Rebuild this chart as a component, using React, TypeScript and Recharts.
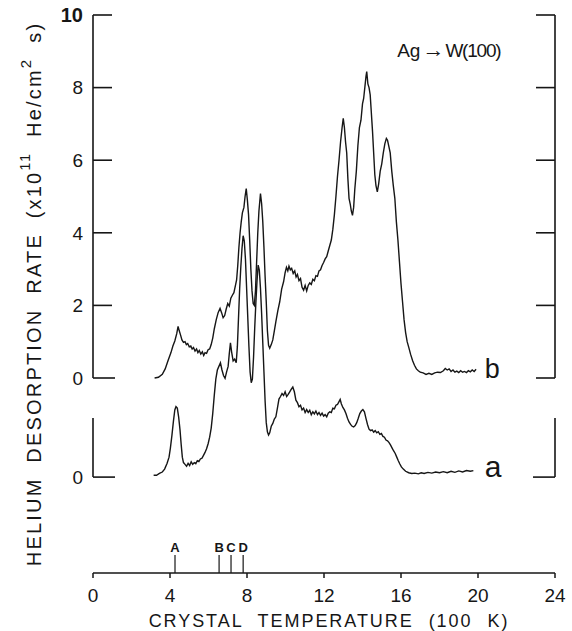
import React from 'react';
import { LineChart, Line, XAxis, YAxis, ReferenceLine, ReferenceDot } from 'recharts';

// Trace b (upper): crystal temperature (100 K) and helium desorption rate (1e11 He/cm^2 s)
const TEMP_B = [
  3.2, 3.4, 3.6, 3.75, 3.9, 4.05, 4.15, 4.25, 4.35, 4.42, 4.48, 4.55, 4.62, 4.7, 4.78, 4.85, 4.92, 5.0,
  5.08, 5.15, 5.22, 5.3, 5.38, 5.45, 5.52, 5.6, 5.68, 5.75, 5.82, 5.9, 5.98, 6.06, 6.14, 6.22, 6.3, 6.4,
  6.5, 6.6, 6.68, 6.76, 6.84, 6.92, 7.0, 7.08, 7.16, 7.24, 7.32, 7.4, 7.46, 7.52, 7.58, 7.64, 7.7, 7.76,
  7.84, 7.9, 7.96, 8.02, 8.08, 8.14, 8.2, 8.26, 8.32, 8.38, 8.44, 8.5, 8.56, 8.62, 8.7, 8.76, 8.82, 8.88,
  8.94, 9.0, 9.06, 9.12, 9.18, 9.26, 9.34, 9.42, 9.5, 9.6, 9.7, 9.8, 9.9, 9.98, 10.05, 10.12, 10.18,
  10.25, 10.32, 10.4, 10.48, 10.55, 10.62, 10.7, 10.78, 10.86, 10.94, 11.02, 11.1, 11.18, 11.26, 11.34,
  11.42, 11.5, 11.58, 11.66, 11.74, 11.82, 11.9, 11.98, 12.06, 12.14, 12.22, 12.3, 12.38, 12.46, 12.54,
  12.62, 12.7, 12.78, 12.86, 12.94, 13.0, 13.06, 13.12, 13.18, 13.24, 13.3, 13.36, 13.42, 13.48, 13.54,
  13.6, 13.68, 13.76, 13.84, 13.92, 14.0, 14.06, 14.12, 14.18, 14.22, 14.28, 14.34, 14.4, 14.46, 14.52,
  14.58, 14.64, 14.7, 14.77, 14.84, 14.92, 15.0, 15.08, 15.16, 15.24, 15.3, 15.36, 15.44, 15.52, 15.6,
  15.68, 15.76, 15.84, 15.92, 16.0, 16.08, 16.16, 16.24, 16.32, 16.4, 16.5, 16.6, 16.7, 16.8, 16.9, 17.0,
  17.15, 17.3, 17.45, 17.6, 17.75, 17.9, 18.05, 18.2, 18.3, 18.4, 18.5, 18.6, 18.7, 18.8, 18.9, 19.0,
  19.1, 19.2, 19.3, 19.4, 19.5, 19.6, 19.7, 19.8, 19.9,
];
const RATE_B = [
  0.0, 0.02, 0.1, 0.25, 0.48, 0.7, 0.88, 1.02, 1.22, 1.42, 1.3, 1.18, 1.05, 0.98, 1.0, 0.92, 0.95, 0.86,
  0.88, 0.8, 0.84, 0.74, 0.8, 0.7, 0.76, 0.66, 0.72, 0.62, 0.7, 0.68, 0.78, 0.8, 0.92, 1.1, 1.35, 1.6,
  1.8, 1.92, 1.8, 1.66, 1.72, 1.9, 2.05, 1.98, 2.2, 2.28, 2.35, 2.55, 2.7, 3.1, 3.6, 4.0, 4.3, 4.55,
  4.7, 5.0, 5.22, 4.9, 4.5, 3.8, 3.0, 2.4, 2.05, 2.0, 2.4, 3.2, 4.0, 4.6, 5.08, 4.8, 4.3, 3.6,
  2.8, 2.1, 1.3, 0.9, 0.82, 0.92, 1.05, 1.3, 1.55, 1.85, 2.1, 2.45, 2.65, 2.9, 3.05, 2.95, 3.08,
  2.98, 3.02, 2.88, 2.95, 2.78, 2.85, 2.68, 2.74, 2.5, 2.42, 2.55, 2.4, 2.55, 2.62, 2.58,
  2.72, 2.68, 2.82, 2.8, 2.95, 2.98, 3.1, 3.18, 3.28, 3.34, 3.5, 3.65, 3.8, 4.1, 4.5,
  5.0, 5.55, 6.0, 6.5, 6.9, 7.15, 6.9, 6.5, 6.2, 5.5, 4.95, 4.8, 4.6, 4.48, 4.7,
  5.2, 5.7, 6.4, 6.9, 7.1, 7.55, 7.7, 8.0, 8.3, 8.44, 8.1, 8.0, 7.8, 7.3, 6.8,
  6.2, 5.6, 5.3, 5.13, 5.35, 5.7, 5.9, 6.2, 6.45, 6.6, 6.55, 6.4, 6.2, 5.7, 5.3,
  4.95, 4.3, 3.8, 3.2, 2.6, 2.1, 1.6, 1.25, 1.0, 0.85, 0.65, 0.48, 0.35, 0.25, 0.2, 0.16,
  0.14, 0.1, 0.13, 0.1, 0.14, 0.16, 0.15, 0.2, 0.26, 0.22, 0.25, 0.18, 0.22, 0.16, 0.19, 0.15,
  0.2, 0.16, 0.18, 0.15, 0.2, 0.17, 0.22, 0.18, 0.24,
];

// Trace a (lower): same quantities, drawn about its own zero line
const TEMP_A = [
  3.15, 3.3, 3.45, 3.6, 3.72, 3.85, 3.95, 4.02, 4.1, 4.18, 4.25, 4.31, 4.38, 4.45, 4.52, 4.58, 4.64, 4.7,
  4.78, 4.86, 4.94, 5.02, 5.1, 5.18, 5.26, 5.34, 5.42, 5.5, 5.58, 5.66, 5.74, 5.82, 5.9, 5.98, 6.06, 6.14,
  6.22, 6.3, 6.38, 6.46, 6.54, 6.62, 6.7, 6.78, 6.86, 6.94, 7.02, 7.08, 7.14, 7.2, 7.28, 7.36, 7.44, 7.5,
  7.56, 7.62, 7.68, 7.74, 7.8, 7.86, 7.92, 7.98, 8.04, 8.1, 8.16, 8.22, 8.28, 8.34, 8.4, 8.46, 8.52, 8.58,
  8.64, 8.7, 8.76, 8.82, 8.88, 8.94, 9.0, 9.06, 9.12, 9.18, 9.26, 9.34, 9.42, 9.5, 9.58, 9.66, 9.74, 9.82,
  9.9, 9.98, 10.06, 10.14, 10.22, 10.3, 10.38, 10.46, 10.54, 10.62, 10.7, 10.78, 10.86, 10.94, 11.02,
  11.1, 11.18, 11.26, 11.34, 11.42, 11.5, 11.58, 11.66, 11.74, 11.82, 11.9, 11.98, 12.06, 12.14, 12.22,
  12.3, 12.38, 12.46, 12.54, 12.62, 12.7, 12.78, 12.84, 12.9, 12.98, 13.06, 13.14, 13.22, 13.3, 13.38,
  13.46, 13.54, 13.62, 13.7, 13.78, 13.86, 13.94, 14.02, 14.1, 14.18, 14.26, 14.34, 14.42, 14.5, 14.58,
  14.66, 14.74, 14.82, 14.9, 14.98, 15.06, 15.14, 15.22, 15.3, 15.38, 15.46, 15.54, 15.62, 15.7, 15.78,
  15.86, 15.94, 16.02, 16.12, 16.24, 16.4, 16.56, 16.72, 16.9, 17.05, 17.2, 17.4, 17.6, 17.8, 18.0, 18.2,
  18.4, 18.6, 18.8, 19.0, 19.2, 19.4, 19.6, 19.76,
];
const RATE_A = [
  0.05, 0.05, 0.1, 0.14, 0.22, 0.38, 0.55, 0.8, 1.15, 1.55, 1.85, 1.94, 1.9, 1.65, 1.3, 0.9, 0.55, 0.4,
  0.35, 0.3, 0.38, 0.32, 0.42, 0.35, 0.4, 0.37, 0.45, 0.43, 0.5, 0.52, 0.6, 0.68, 0.78, 0.92, 1.1, 1.35,
  1.75, 2.25, 2.7, 2.95, 3.05, 3.15, 2.95, 2.8, 2.72, 2.9, 3.05, 3.4, 3.7, 3.45, 3.2, 3.25, 3.15, 3.6,
  4.4, 5.2, 5.8, 6.3, 6.65, 6.5, 6.0, 5.2, 4.4, 3.6, 2.9, 2.6, 2.7, 3.3, 4.1, 4.8, 5.4, 5.84,
  5.7, 5.2, 4.5, 3.7, 2.9, 2.1, 1.5, 1.25, 1.16, 1.22, 1.4, 1.48, 1.6, 1.66, 1.9, 2.15, 2.22, 2.3,
  2.25, 2.35, 2.22, 2.28, 2.35, 2.42, 2.48, 2.35, 2.12, 2.05, 1.94, 1.98, 1.85, 1.9, 1.78,
  1.86, 1.78, 1.84, 1.72, 1.8, 1.74, 1.82, 1.72, 1.78, 1.7, 1.76, 1.68, 1.72, 1.66, 1.76,
  1.8, 1.78, 1.9, 1.88, 1.98, 2.0, 2.08, 2.14, 2.02, 1.92, 1.85, 1.75, 1.62, 1.52, 1.45,
  1.4, 1.38, 1.42, 1.5, 1.62, 1.75, 1.82, 1.86, 1.8, 1.62, 1.45, 1.32, 1.28, 1.3, 1.24,
  1.28, 1.22, 1.25, 1.18, 1.2, 1.12, 1.1, 1.02, 1.0, 0.95, 0.88, 0.8, 0.72, 0.65, 0.55,
  0.45, 0.36, 0.28, 0.22, 0.16, 0.12, 0.1, 0.11, 0.09, 0.12, 0.1, 0.13, 0.11, 0.14, 0.12, 0.15,
  0.12, 0.16, 0.13, 0.17, 0.14, 0.18, 0.16, 0.18,
];

const X_TICKS = [0, 4, 8, 12, 16, 20, 24];
const Y_TICKS = [0, 2, 4, 6, 8, 10];
// zero line of trace a on the shared rate scale, and the height of its bracket
const TRACE_A_ZERO = -2.73;
const TRACE_A_SPAN = 1.63;
const Y_MIN = -5.372;
const Y_MAX = 10;

const MARKERS = [
  { label: 'A', temp: 4.26 },
  { label: 'B', temp: 6.55 },
  { label: 'C', temp: 7.17 },
  { label: 'D', temp: 7.8 },
];

const FONT = '"Liberation Sans", Arial, Helvetica, sans-serif';
const INK = '#161616';

const seriesB = TEMP_B.map((t, i) => ({ t, rate: RATE_B[i] }));
const seriesA = TEMP_A.map((t, i) => ({ t, rate: RATE_A[i] + TRACE_A_ZERO }));
const axisTicks = [TRACE_A_ZERO, ...Y_TICKS];

const LeftTick = (props: any) => {
  const { x, y, payload } = props;
  const v = payload.value;
  const isZero = v === 0 || v === TRACE_A_ZERO;
  return (
    <g>
      <line x1={x} x2={x + (isZero ? 22 : 19)} y1={y} y2={y} stroke={INK} strokeWidth={1.6} />
      <text
        x={x - 10}
        y={y}
        dy="0.36em"
        textAnchor="end"
        fontSize={v === 10 ? 20 : 19}
        fontWeight={v === 10 ? 700 : 400}
        fill={INK}
        fontFamily={FONT}
      >
        {v === TRACE_A_ZERO ? '0' : String(v)}
      </text>
    </g>
  );
};

const RightTick = (props: any) => {
  const { x, y, payload } = props;
  const isZero = payload.value === TRACE_A_ZERO;
  return <line x1={x - (isZero ? 22 : 19)} x2={x} y1={y} y2={y} stroke={INK} strokeWidth={1.6} />;
};

const YTitle = (props: any) => {
  const vb = props.viewBox;
  const cx = vb.x + vb.width - 59;
  const cy = vb.y + vb.height / 2;
  return (
    <text
      x={cx}
      y={cy}
      transform={`rotate(-90 ${cx} ${cy})`}
      textAnchor="middle"
      dominantBaseline="central"
      fontSize={20}
      fill={INK}
      fontFamily={FONT}
      letterSpacing={2.2}
      wordSpacing={7}
    >
      <tspan>HELIUM DESORPTION RATE (x10</tspan>
      <tspan fontSize={14} dy={-9}>11</tspan>
      <tspan dy={9}> He/cm</tspan>
      <tspan fontSize={15} dy={-9}>2</tspan>
      <tspan dy={9}> s)</tspan>
    </text>
  );
};

const XTitle = (props: any) => {
  const vb = props.viewBox;
  return (
    <text
      x={vb.x + vb.width / 2 + 5}
      y={vb.y + 54}
      textAnchor="middle"
      fontSize={18}
      fill={INK}
      fontFamily={FONT}
      letterSpacing={1.95}
      wordSpacing={8}
    >
      CRYSTAL TEMPERATURE (100 K)
    </text>
  );
};

const MarkerShape = (label: string) => (p: any) => {
  const yb = Math.max(p.y1, p.y2);
  return (
    <g>
      <line x1={p.x1} x2={p.x1} y1={yb} y2={yb - 18} stroke={INK} strokeWidth={1.2} />
      <text x={p.x1} y={yb - 21} textAnchor="middle" fontSize={13} fontWeight={700} fill={INK} fontFamily={FONT}>
        {label}
      </text>
    </g>
  );
};

const traceLabel = (text: string, size: number) => (p: any) => (
  <text x={p.viewBox.x} y={p.viewBox.y} fontSize={size} fill={INK} fontFamily={FONT}>
    {text}
  </text>
);

const systemLabel = (p: any) => (
  <text x={p.viewBox.x} y={p.viewBox.y} fontSize={19} fill={INK} fontFamily={FONT}>
    <tspan>Ag</tspan>
    <tspan fontWeight={700} dx={2} fontSize={22}>→</tspan>
    <tspan letterSpacing={-1.2} dx={1}>W(100)</tspan>
  </text>
);

export default function App() {
  return (
    <div style={{ position: 'absolute', left: 0, top: 0, background: '#fff' }}>
      <LineChart width={572} height={631} margin={{ top: 15, right: 16, bottom: 8, left: 92 }}>
        <XAxis
          type="number"
          dataKey="t"
          domain={[0, 24]}
          ticks={X_TICKS}
          interval={0}
          height={50}
          tickSize={5}
          tickMargin={11}
          axisLine={{ stroke: INK, strokeWidth: 1.5 }}
          tickLine={{ stroke: INK, strokeWidth: 1.5 }}
          tick={{ fill: INK, fontSize: 19, fontFamily: FONT }}
          label={{ content: XTitle }}
          allowDataOverflow
        />
        <YAxis
          yAxisId="l"
          orientation="left"
          type="number"
          width={1}
          domain={[Y_MIN, Y_MAX]}
          ticks={axisTicks}
          interval={0}
          axisLine={false}
          tickLine={false}
          tickSize={0}
          tickMargin={0}
          tick={LeftTick}
          label={{ content: YTitle }}
          allowDataOverflow
        />
        <YAxis
          yAxisId="r"
          orientation="right"
          type="number"
          width={1}
          domain={[Y_MIN, Y_MAX]}
          ticks={axisTicks}
          interval={0}
          axisLine={false}
          tickLine={false}
          tickSize={0}
          tickMargin={0}
          tick={RightTick}
          allowDataOverflow
        />

        {/* bracket axes: full scale for trace b, short scale bar for trace a */}
        <ReferenceLine yAxisId="l" segment={[{ x: 0, y: 0 }, { x: 0, y: Y_MAX }]} stroke={INK} strokeWidth={1.6} />
        <ReferenceLine yAxisId="l" segment={[{ x: 24, y: 0 }, { x: 24, y: Y_MAX }]} stroke={INK} strokeWidth={1.6} />
        <ReferenceLine
          yAxisId="l"
          segment={[{ x: 0, y: TRACE_A_ZERO }, { x: 0, y: TRACE_A_ZERO + TRACE_A_SPAN }]}
          stroke={INK}
          strokeWidth={1.6}
        />
        <ReferenceLine
          yAxisId="l"
          segment={[{ x: 24, y: TRACE_A_ZERO }, { x: 24, y: TRACE_A_ZERO + TRACE_A_SPAN }]}
          stroke={INK}
          strokeWidth={1.6}
        />

        {MARKERS.map((m) => (
          <ReferenceLine key={m.label} yAxisId="l" x={m.temp} shape={MarkerShape(m.label)} />
        ))}

        <Line
          yAxisId="l"
          data={seriesA}
          dataKey="rate"
          type="linear"
          stroke={INK}
          strokeWidth={1.4}
          dot={false}
          isAnimationActive={false}
        />
        <Line
          yAxisId="l"
          data={seriesB}
          dataKey="rate"
          type="linear"
          stroke={INK}
          strokeWidth={1.4}
          dot={false}
          isAnimationActive={false}
        />

        <ReferenceDot yAxisId="l" x={20.35} y={0} r={0} label={{ content: traceLabel('b', 27) }} />
        <ReferenceDot yAxisId="l" x={20.35} y={TRACE_A_ZERO} r={0} label={{ content: traceLabel('a', 30) }} />
        <ReferenceDot yAxisId="l" x={15.8} y={8.84} r={0} label={{ content: systemLabel }} />
      </LineChart>
    </div>
  );
}
